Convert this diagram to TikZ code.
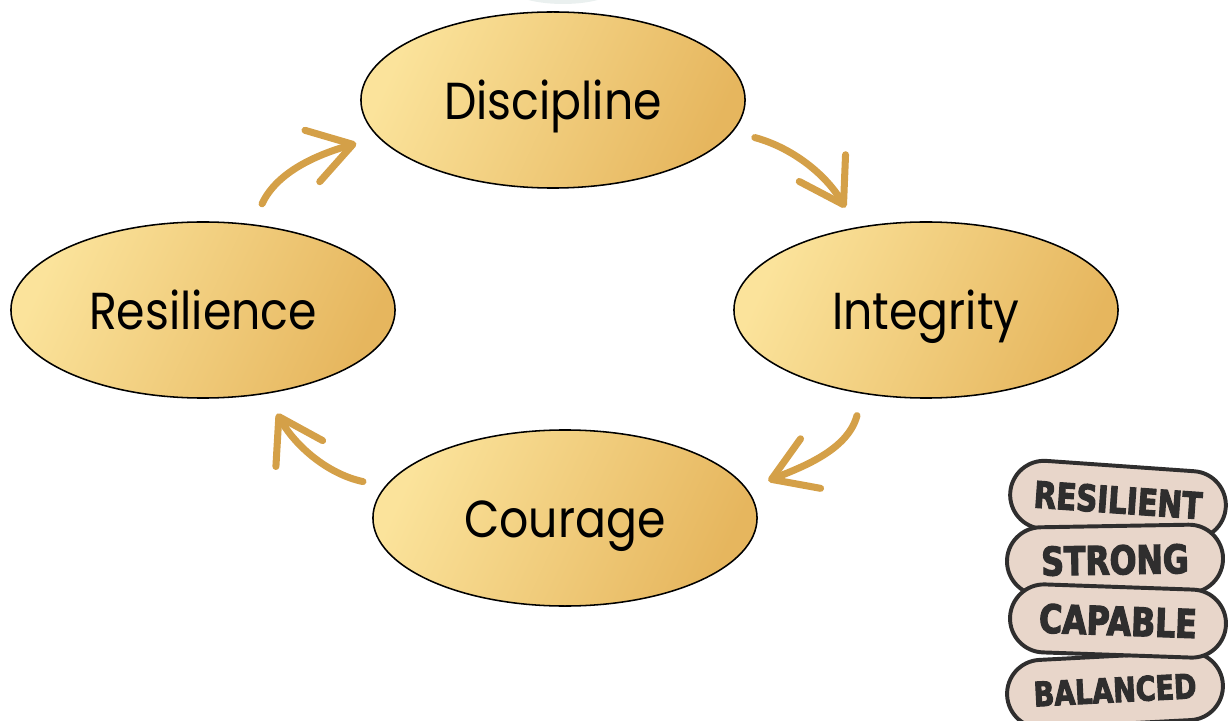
\documentclass[tikz,border=0pt]{standalone}
\usepackage{fontspec}
\setmainfont{Poppins}[FakeStretch=0.88]
\newfontfamily\badgefont{DejaVu Sans}[FakeBold=3,FakeStretch=0.8]
\usetikzlibrary{shapes.geometric,shapes.misc,arrows.meta}

\definecolor{goldLight}{HTML}{FBE39B}
\definecolor{goldDark}{HTML}{E6B65E}
\definecolor{arrowGold}{HTML}{D4A048}
\definecolor{badgeFill}{HTML}{E8D6CA}
\definecolor{badgeInk}{HTML}{2F2E2E}
\definecolor{haze}{HTML}{EAF0EF}

\begin{document}
\begin{tikzpicture}[
    x=0.025cm, y=0.025cm,
    virtue/.style={
        ellipse,
        draw=black,
        line width=1.1pt,
        minimum width=9.6cm,
        minimum height=4.4cm,
        inner sep=0pt,
        left color=goldLight,
        right color=goldDark,
        shading angle=65,
        text height=28pt,
        text depth=0pt,
        font=\fontsize{37}{40}\selectfont
    },
    turn/.style={
        draw=arrowGold,
        line width=5pt,
        line cap=round,
        shorten <=16pt,
        shorten >=16pt,
        -{Straight Barb[length=30pt,width=38pt,round]}
    },
    badge/.style={
        rounded rectangle,
        draw=badgeInk,
        line width=2.8pt,
        fill=badgeFill,
        minimum width=5.4cm,
        minimum height=1.7cm,
        inner sep=0pt,
        text=badgeInk,
        font=\badgefont\bfseries\fontsize{26}{26}\selectfont
    }
]
    \useasboundingbox (0,0) rectangle (1230,-721);
    \fill[haze] (563,16) ellipse (58 and 20);

    % --- Virtues ---
    \node[virtue] (dis) at (553,-100) {Discipline};
    \node[virtue] (int) at (926,-310) {Integrity};
    \node[virtue] (cou) at (565,-518) {Courage};
    \node[virtue] (res) at (203,-310) {Resilience};

    % --- Cycle arrows ---
    \draw[turn] (res.60) to[out=65,in=196] (dis.192);
    \draw[turn] (dis.-10) to[out=-15,in=120] (int.130);
    \draw[turn] (int.233) to[out=-105,in=22] (cou.9);
    \draw[turn] (cou.170) to[out=168,in=-61] (res.-53);

    % --- Badge stack (bottom one first) ---
    \node[badge, rotate=3] (bBal) at (1115,-690) {\fontsize{24}{24}\selectfont BALANCED};
    \node[badge, rotate=-4] (bRes) at (1118,-500) {RESILIENT};
    \node[badge, rotate=1] (bStr) at (1115,-560) {\fontsize{28}{28}\selectfont STRONG};
    \node[badge, rotate=-2] (bCap) at (1118,-621) {\fontsize{28}{28}\selectfont CAPABLE};
\end{tikzpicture}
\end{document}
